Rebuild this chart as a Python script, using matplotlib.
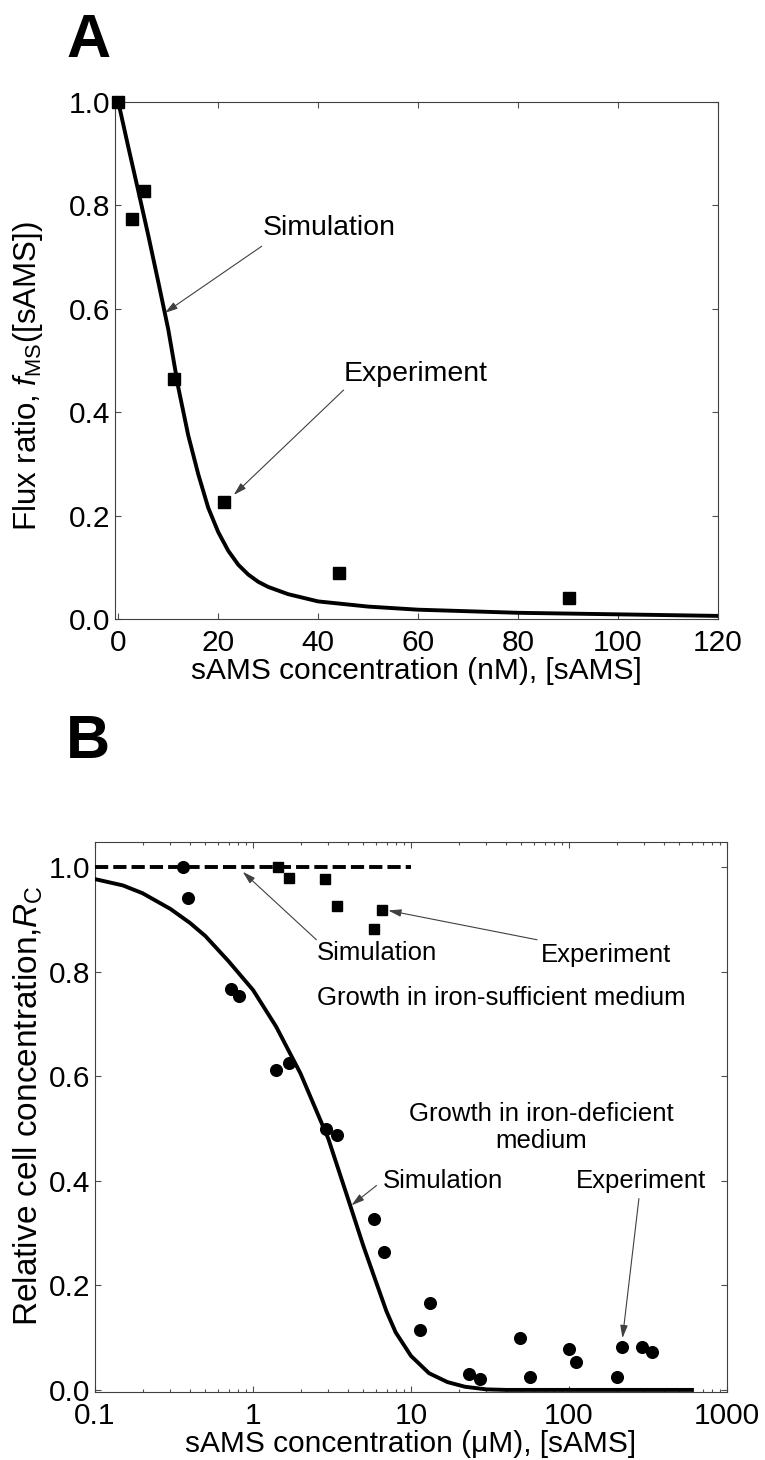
import numpy as np
import matplotlib
matplotlib.use("Agg")
import matplotlib.pyplot as plt
from matplotlib.ticker import LogLocator, NullFormatter, FormatStrFormatter

plt.rcParams['font.family'] = ['Liberation Sans', 'DejaVu Sans']
plt.rcParams['mathtext.fontset'] = 'custom'
plt.rcParams['mathtext.rm'] = 'Liberation Sans'
plt.rcParams['mathtext.it'] = 'Liberation Sans:italic'
plt.rcParams['mathtext.bf'] = 'Liberation Sans:bold'

# ---- panel A: flux ratio vs sAMS (nM) ----
a_exp_x = [0, 2.7, 5.2, 11.2, 21.1, 44.1, 90.1]
a_exp_y = [1.0, 0.773, 0.828, 0.465, 0.226, 0.089, 0.040]
a_sim_x = [0, 2, 4, 6, 8, 10, 12, 14, 16, 18, 20, 22, 24, 26, 28, 30, 34,
           40, 50, 60, 80, 100, 120]
a_sim_y = [1.0, 0.913, 0.828, 0.742, 0.652, 0.56, 0.448, 0.355, 0.28, 0.215,
           0.168, 0.132, 0.105, 0.086, 0.072, 0.062, 0.048, 0.034, 0.024,
           0.018, 0.012, 0.009, 0.006]
a_xticks = [0, 20, 40, 60, 80, 100, 120]
a_yticks = [0.0, 0.2, 0.4, 0.6, 0.8, 1.0]

# ---- panel B: relative cell concentration vs sAMS (uM) ----
# iron-deficient medium
b_def_x = [0.358, 0.385, 0.727, 0.821, 1.40, 1.69, 2.89, 3.42, 5.85, 6.77,
           11.4, 13.2, 23.3, 27.2, 48.7, 56.4, 100, 110, 202, 218, 289, 337]
b_def_y = [1.0, 0.940, 0.767, 0.754, 0.611, 0.626, 0.499, 0.488, 0.326, 0.264,
           0.114, 0.167, 0.030, 0.020, 0.099, 0.024, 0.079, 0.053, 0.024,
           0.082, 0.082, 0.072]
b_def_sim_x = [0.1, 0.15, 0.2, 0.3, 0.4, 0.5, 0.7, 1.0, 1.4, 2.0, 3.0, 4.0,
               5.0, 6.0, 7.0, 8.0, 10, 13, 17, 22, 30, 40, 600]
b_def_sim_y = [0.977, 0.965, 0.950, 0.920, 0.893, 0.868, 0.820, 0.765, 0.695,
               0.605, 0.480, 0.365, 0.275, 0.207, 0.150, 0.110, 0.065, 0.032,
               0.015, 0.006, 0.001, 0.0, 0.0]
# iron-sufficient medium
b_suf_x = [1.45, 1.68, 2.87, 3.41, 5.85, 6.52]
b_suf_y = [1.0, 0.980, 0.977, 0.926, 0.882, 0.917]
b_suf_sim_x = [0.1, 10]
b_suf_sim_y = [1.0, 1.0]
b_xticks = [0.1, 1, 10, 100, 1000]
b_xticklabels = ['0.1', '1', '10', '100', '1000']
b_yticks = [0.0, 0.2, 0.4, 0.6, 0.8, 1.0]

W, H = 765, 1460
fig = plt.figure(figsize=(W / 100, H / 100), dpi=100)


def axes_px(l, t, r, b):
    """axes from pixel box (left, top, right, bottom)"""
    return fig.add_axes([l / W, 1 - b / H, (r - l) / W, (b - t) / H])


def style(ax):
    for s in ax.spines.values():
        s.set_linewidth(0.8)
        s.set_color('0.25')
    ax.tick_params(which='both', direction='in', top=True, right=True,
                   color='0.3', width=0.8, labelsize=21.5)
    ax.tick_params(which='major', length=4)
    ax.tick_params(which='minor', length=2.5)
    ax.tick_params(axis='x', pad=7.5)
    ax.tick_params(axis='y', pad=3.5)


arrow = dict(arrowstyle='-|>,head_length=0.55,head_width=0.16', color='0.25',
             lw=0.8, shrinkA=0, shrinkB=0, mutation_scale=14)

# ================= A =================
ax = axes_px(115, 102, 718, 619)
style(ax)
ax.plot(a_sim_x, a_sim_y, '-', color='k', lw=2.8, zorder=3,
        solid_joinstyle='round')
ax.plot(a_exp_x, a_exp_y, 's', color='k', ms=8.4, clip_on=False, zorder=4)
ax.set_xlim(-0.66, 120)
ax.set_ylim(0, 1)
ax.set_xticks(a_xticks)
ax.set_yticks(a_yticks)
ax.yaxis.set_major_formatter(FormatStrFormatter('%.1f'))
ax.set_xlabel('sAMS concentration (nM), [sAMS]', fontsize=21.5, va='top')
ax.xaxis.set_label_coords(0.5, -0.0735)
ax.set_ylabel(r'Flux ratio, $\mathit{f}_{\mathrm{MS}}$([sAMS])', fontsize=22.5)
ax.yaxis.set_label_coords(-0.116, 0.47)

ax.text(28.9, 0.756, 'Simulation', fontsize=20.5, ha='left', va='center')
ax.annotate('', xy=(9.3, 0.592), xytext=(28.7, 0.721), arrowprops=arrow)
ax.text(45.1, 0.474, 'Experiment', fontsize=20.5, ha='left', va='center')
ax.annotate('', xy=(23.1, 0.240), xytext=(45.1, 0.443), arrowprops=arrow)

fig.text(66 / W, 1 - 57 / H, 'A', fontsize=44, fontweight='bold',
         ha='left', va='baseline')

# ================= B =================
ax = axes_px(95, 842, 727, 1392)
style(ax)
ax.set_xscale('log')
ax.plot(b_suf_sim_x, b_suf_sim_y, color='k', lw=2.8, ls=(0, (3.4, 1.3)),
        zorder=3)
ax.plot(b_def_sim_x, b_def_sim_y, '-', color='k', lw=2.8, zorder=3,
        solid_joinstyle='round')
ax.plot(b_suf_x, b_suf_y, 's', color='k', ms=6.5, zorder=4)
ax.plot(b_def_x, b_def_y, 'o', color='k', ms=8.4, zorder=4)
ax.set_xlim(0.1, 1000)
ax.set_ylim(-0.004, 1.048)
ax.set_xticks(b_xticks)
ax.set_xticklabels(b_xticklabels)
ax.xaxis.set_minor_locator(LogLocator(base=10, subs=np.arange(2, 10)))
ax.xaxis.set_minor_formatter(NullFormatter())
ax.set_yticks(b_yticks)
ax.yaxis.set_major_formatter(FormatStrFormatter('%.1f'))
ax.set_xlabel('sAMS concentration (\u03bcM), [sAMS]', fontsize=21.5, va='top')
ax.xaxis.set_label_coords(0.5, -0.069)
ax.set_ylabel(r'Relative cell concentration,$\mathit{R}_{\mathrm{C}}$',
              fontsize=24)
ax.yaxis.set_label_coords(-0.079, 0.52)

fs = 18.5
ax.text(2.53, 0.836, 'Simulation', fontsize=fs, ha='left', va='center')
ax.annotate('', xy=(0.861, 0.991), xytext=(2.52, 0.861), arrowprops=arrow)
ax.text(65.9, 0.832, 'Experiment', fontsize=fs, ha='left', va='center')
ax.annotate('', xy=(7.18, 0.917), xytext=(62.8, 0.861), arrowprops=arrow)
ax.text(2.53, 0.750, 'Growth in iron-sufficient medium', fontsize=fs,
        ha='left', va='center')
ax.text(66.8, 0.502, 'Growth in iron-deficient\nmedium', fontsize=fs,
        ha='center', va='center', linespacing=1.2)
ax.text(6.64, 0.399, 'Simulation', fontsize=fs, ha='left', va='center')
ax.annotate('', xy=(4.2, 0.353), xytext=(6.05, 0.391), arrowprops=arrow)
ax.text(110, 0.399, 'Experiment', fontsize=fs, ha='left', va='center')
ax.annotate('', xy=(218, 0.099), xytext=(277, 0.366), arrowprops=arrow)

fig.text(66 / W, 1 - 758 / H, 'B', fontsize=44, fontweight='bold',
         ha='left', va='baseline')

fig.savefig('out.png', dpi=100)
